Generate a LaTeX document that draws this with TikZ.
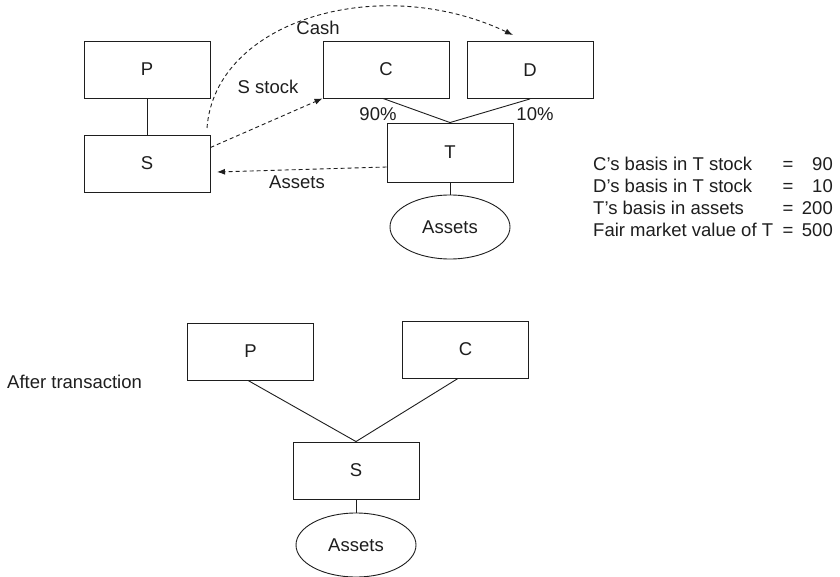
\documentclass[tikz,border=0pt]{standalone}
\usepackage{fontspec}
\setmainfont{Liberation Sans}
\usetikzlibrary{arrows.meta,shapes.geometric}
\definecolor{ink}{HTML}{1E1E1E}
\begin{document}
\begin{tikzpicture}[x=1pt,y=-1pt,
  font=\fontsize{18.5}{22}\selectfont,
  every node/.style={text=ink},
  box/.style={draw=ink,line width=0.9pt,minimum width=126pt,minimum height=57pt,inner sep=0pt},
  oval/.style={draw=ink,ellipse,line width=0.9pt,minimum width=120pt,minimum height=64pt,inner sep=0pt},
  link/.style={draw=ink,line width=0.9pt},
  flow/.style={draw=ink,line width=0.9pt,dash pattern=on 4pt off 3pt,-{Latex[length=8pt,width=6pt]}},
  lbl/.style={inner sep=0pt}]
% canvas
\useasboundingbox (0,0) rectangle (840,577);
\fill[white] (0,0) rectangle (840,577);

% ---- before the transaction ----
\node[box] (P) at (147,69.5) {P};
\node[box] (S) at (147,163.5) {S};
\node[box] (C) at (386,69.5) {C};
\node[box] (D) at (530,70) {D};
\node[box,minimum height=59pt] (T) at (450,152.5) {T};
\node[oval] (TA) at (450,227) {Assets};

\draw[link] (P.south) -- (S.north);
\draw[link] ([xshift=-3pt]C.south) -- (T.north);
\draw[link] (D.south) -- (T.north);
\draw[link] (T.south) -- (TA.north);

\node[lbl] (l90) at (378,114) {90\%};
\node[lbl] (l10) at (535,114) {10\%};

% transfers
\coordinate (cashStart) at (207,128);
\coordinate (cashEnd) at (513,35);
\draw[flow] (cashStart) .. controls (215,20) and (380,-28) .. (cashEnd);
\draw[flow] ([yshift=16pt]S.east) -- (C.south west);
\coordinate (assetsEnd) at (217,172);
\draw[flow] ([yshift=-14.5pt]T.west) -- (assetsEnd);

\node[lbl] (cash) at (318,28) {Cash};
\node[lbl] (sstock) at (268,87) {S stock};
\node[lbl] (assets) at (297,182) {Assets};

% basis figures
\node[lbl,anchor=base west] (r1) at (593,171) {C’s basis in T stock};
\node[lbl,anchor=base west] (r2) at (593,193) {D’s basis in T stock};
\node[lbl,anchor=base west] (r3) at (593,215) {T’s basis in assets};
\node[lbl,anchor=base west] (r4) at (593,237) {Fair market value of T};
\node[lbl,anchor=base] (e1) at (788,171) {=};
\node[lbl,anchor=base] (e2) at (788,193) {=};
\node[lbl,anchor=base] (e3) at (788,215) {=};
\node[lbl,anchor=base] (e4) at (788,237) {=};
\node[lbl,anchor=base east] (v1) at (833,171) {90};
\node[lbl,anchor=base east] (v2) at (833,193) {10};
\node[lbl,anchor=base east] (v3) at (833,215) {200};
\node[lbl,anchor=base east] (v4) at (833,237) {500};

% ---- after the transaction ----
\node[lbl,anchor=west] (after) at (7,382) {After transaction};
\node[box] (P2) at (250.5,351.5) {P};
\node[box] (C2) at (465.5,349.5) {C};
\node[box] (S2) at (356,470.5) {S};
\node[oval] (SA) at (356,545) {Assets};

\draw[link] ([xshift=-2.5pt]P2.south) -- (S2.north);
\draw[link] ([xshift=-7.5pt]C2.south) -- (S2.north);
\draw[link] (S2.south) -- (SA.north);
\end{tikzpicture}
\end{document}
